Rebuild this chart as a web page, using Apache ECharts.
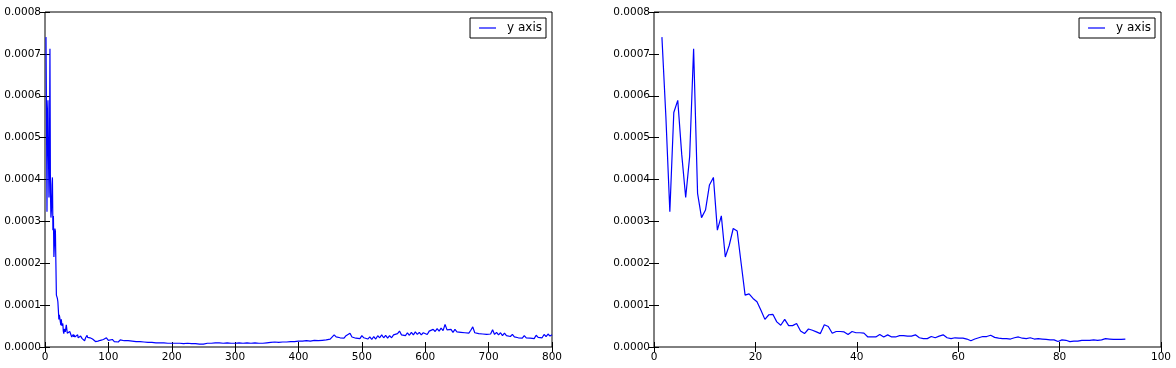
<!DOCTYPE html>
<html>
<head>
<meta charset="utf-8">
<script src="https://cdn.jsdelivr.net/npm/echarts@6/dist/echarts.min.js"></script>
<style>
html,body{margin:0;padding:0;background:#fff;}
#chart{width:1176px;height:368px;}
</style>
</head>
<body>
<div id="chart"></div>
<script>
// ---- data (values in units of 1e-4) ----
const seriesName = 'y axis';
const valueScale = 1e-4;
const binWidth = 800 / 1024;          // frequency step between samples
const firstBin = 2;                    // first plotted bin index
// low band: every bin from 2 to 119 (shown on both panels)
const lowBand = [
  7.40, 5.50, 3.23, 5.60, 5.89, 4.60, 3.57, 4.55, 7.12, 3.67,
  3.09, 3.27, 3.87, 4.05, 2.79, 3.13, 2.15, 2.43, 2.83, 2.77,
  2.00, 1.24, 1.27, 1.16, 1.08, 0.88, 0.66, 0.77, 0.78, 0.60,
  0.52, 0.66, 0.51, 0.51, 0.56, 0.38, 0.32, 0.43, 0.40, 0.36,
  0.32, 0.53, 0.49, 0.33, 0.37, 0.37, 0.36, 0.30, 0.37, 0.34,
  0.34, 0.33, 0.24, 0.24, 0.24, 0.30, 0.24, 0.29, 0.24, 0.24,
  0.27, 0.27, 0.26, 0.26, 0.29, 0.22, 0.20, 0.20, 0.25, 0.22,
  0.26, 0.29, 0.22, 0.20, 0.22, 0.21, 0.21, 0.19, 0.15, 0.19,
  0.22, 0.25, 0.25, 0.28, 0.23, 0.21, 0.20, 0.20, 0.19, 0.22,
  0.24, 0.21, 0.20, 0.22, 0.19, 0.20, 0.19, 0.18, 0.17, 0.17,
  0.13, 0.17, 0.16, 0.13, 0.14, 0.14, 0.16, 0.16, 0.16, 0.17,
  0.16, 0.17, 0.20, 0.19, 0.18, 0.18, 0.18, 0.19
];
// tail: bins 120..1024, every 4th bin (left panel only)
const tailStart = 120;
const tailStep = 4;
const tailValues = [
  0.20, 0.22, 0.16,
  0.15, 0.18, 0.13, 0.16, 0.12, 0.17, 0.13, 0.15, 0.12, 0.15, 0.11, 0.14, 0.12, 0.13, 0.10, 0.13,
  0.10, 0.12, 0.08, 0.11, 0.09, 0.11, 0.08, 0.10, 0.07, 0.10, 0.08, 0.10, 0.07, 0.09, 0.07, 0.09,
  0.07, 0.09, 0.06, 0.09, 0.07, 0.08, 0.06, 0.09, 0.07, 0.08, 0.06, 0.08, 0.06, 0.07, 0.05, 0.07,
  0.06, 0.09, 0.07, 0.09, 0.08, 0.10, 0.07, 0.10, 0.08, 0.09, 0.07, 0.10, 0.08, 0.09, 0.07, 0.09,
  0.08, 0.10, 0.07, 0.09, 0.08, 0.10, 0.07, 0.09, 0.08, 0.10, 0.07, 0.09, 0.08, 0.09, 0.07, 0.10,
  0.08, 0.11, 0.09, 0.12, 0.09, 0.11, 0.09, 0.12, 0.10, 0.12, 0.10, 0.13, 0.10, 0.13, 0.11, 0.14,
  0.11, 0.14, 0.11, 0.15, 0.12, 0.14, 0.11, 0.16, 0.12, 0.15, 0.12, 0.16, 0.14, 0.17, 0.15, 0.19,
  0.20, 0.29, 0.24, 0.28, 0.22, 0.26, 0.21, 0.27, 0.23, 0.33, 0.24, 0.27, 0.21, 0.25, 0.20, 0.27,
  0.22, 0.26, 0.19, 0.24, 0.18, 0.25, 0.19, 0.27, 0.22, 0.29, 0.22, 0.28, 0.21, 0.27, 0.22, 0.29,
  0.25, 0.32, 0.38, 0.29, 0.33, 0.27, 0.34, 0.28, 0.35, 0.29, 0.36, 0.30, 0.35, 0.29, 0.34, 0.31,
  0.30, 0.38, 0.35, 0.42, 0.37, 0.44, 0.38, 0.45, 0.39, 0.54, 0.41, 0.37, 0.42, 0.35, 0.42, 0.36,
  0.40, 0.35, 0.39, 0.34, 0.38, 0.33, 0.40, 0.48, 0.34, 0.37, 0.32, 0.36, 0.31, 0.35, 0.30, 0.34,
  0.31, 0.41, 0.30, 0.35, 0.29, 0.34, 0.27, 0.33, 0.27, 0.31, 0.25, 0.30, 0.24, 0.28, 0.22, 0.26,
  0.21, 0.27, 0.22, 0.26, 0.21, 0.25, 0.20, 0.28, 0.23, 0.27, 0.22, 0.30, 0.25, 0.31, 0.26, 0.29
];
// axes
const yMin = 0, yMax = 0.0008, yStep = 0.0001;
const leftXMin = 0, leftXMax = 800, leftXStep = 100;
const rightXMin = 0, rightXMax = 100, rightXStep = 20;

// ---- build point lists ----
const lowPoints = lowBand.map((v, i) => [(firstBin + i) * binWidth, v * valueScale]);
const tailPoints = tailValues.map((v, i) => [(tailStart + i * tailStep) * binWidth, v * valueScale]);
const leftPoints = lowPoints.concat(tailPoints);

const FONT = 'DejaVu Sans';
const tickLen = 5;
const grids = [
  {left: 45, top: 12, width: 507, height: 335, show: true, borderColor: '#000', borderWidth: 1, backgroundColor: 'transparent'},
  {left: 654, top: 12, width: 507, height: 335, show: true, borderColor: '#000', borderWidth: 1, backgroundColor: 'transparent'}
];
function xAxes(gi, min, max, step) {
  const base = {gridIndex: gi, type: 'value', min, max, interval: step,
    splitLine: {show: false}, axisLine: {show: false},
    axisTick: {show: true, inside: true, length: tickLen, lineStyle: {color: '#000'}}};
  return [
    Object.assign({}, base, {position: 'bottom',
      axisLabel: {show: true, color: '#000', fontFamily: FONT, fontSize: 10.5, margin: 5}}),
    Object.assign({}, base, {position: 'top', axisLabel: {show: false}})
  ];
}
function yAxes(gi) {
  const base = {gridIndex: gi, type: 'value', min: yMin, max: yMax, interval: yStep,
    splitLine: {show: false}, axisLine: {show: false},
    axisTick: {show: true, inside: true, length: tickLen, lineStyle: {color: '#000'}}};
  return [
    Object.assign({}, base, {position: 'left',
      axisLabel: {show: true, color: '#000', fontFamily: FONT, fontSize: 10.5, margin: 4,
        formatter: v => v.toFixed(4)}}),
    Object.assign({}, base, {position: 'right', axisLabel: {show: false}})
  ];
}
const xs = xAxes(0, leftXMin, leftXMax, leftXStep).concat(xAxes(1, rightXMin, rightXMax, rightXStep));
const ys = yAxes(0).concat(yAxes(1));

function legend(rightPx) {
  return {
    show: true, data: [seriesName], right: rightPx, top: 18,
    orient: 'vertical',
    backgroundColor: '#fff', borderColor: '#000', borderWidth: 1, borderRadius: 0,
    padding: [4, 4, 4, 9],
    icon: 'rect', itemWidth: 17, itemHeight: 1.2,
    itemStyle: {color: '#0000ff'},
    textStyle: {color: '#000', fontFamily: FONT, fontSize: 12, padding: [0, 0, 0, 6]},
    selectedMode: false
  };
}

const chart = echarts.init(document.getElementById('chart'), null, {renderer: 'canvas'});
chart.setOption({
  animation: false,
  backgroundColor: '#fff',
  grid: grids,
  xAxis: xs,
  yAxis: ys,
  legend: [legend(630), legend(21)],
  series: [
    {name: seriesName, type: 'line', xAxisIndex: 0, yAxisIndex: 0, data: leftPoints,
      showSymbol: false, symbol: 'none', lineStyle: {color: '#0000ff', width: 1.2}, itemStyle: {color: '#0000ff'}},
    {name: seriesName, type: 'line', xAxisIndex: 2, yAxisIndex: 2, data: lowPoints,
      showSymbol: false, symbol: 'none', lineStyle: {color: '#0000ff', width: 1.2}, itemStyle: {color: '#0000ff'}}
  ]
});
</script>
</body>
</html>
